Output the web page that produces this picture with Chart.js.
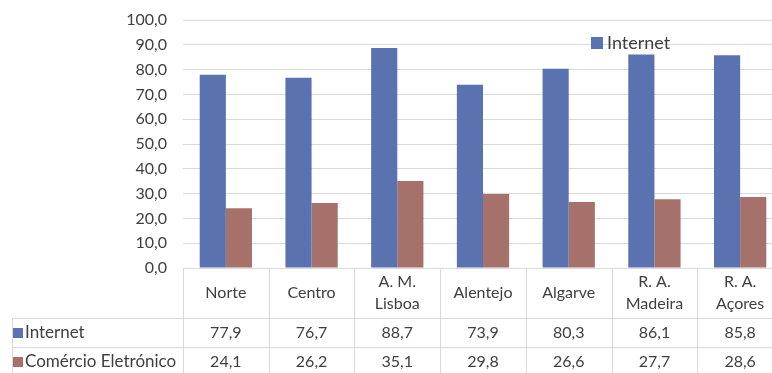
<!DOCTYPE html>
<html>
<head>
<meta charset="utf-8">
<script src="https://cdn.jsdelivr.net/npm/chart.js@4.4.0/dist/chart.umd.min.js"></script>
<style>
  html, body { margin: 0; padding: 0; overflow: hidden; background: #fff; }
  #wrap { width: 786px; height: 380px; }
</style>
</head>
<body>
<div id="wrap"><canvas id="chart" width="786" height="380"></canvas></div>
<script>
// region labels (multi-line where the table wraps them)
const regions = [['Norte'], ['Centro'], ['A. M.', 'Lisboa'], ['Alentejo'], ['Algarve'], ['R. A.', 'Madeira'], ['R. A.', 'Açores']];
const internet = [77.9, 76.7, 88.7, 73.9, 80.3, 86.1, 85.8];
const comercio = [24.1, 26.2, 35.1, 29.8, 26.6, 27.7, 28.6];
const seriesNames = ['Internet', 'Comércio Eletrónico'];
const colors = ['#5a72b0', '#a6706b'];

const FONT = 'Lato, "Open Sans", sans-serif';
const TEXT = '#404040';
const LINE = '#d9d9d9';
const fmt = v => v.toFixed(1).replace('.', ',');

// Excel style data table under the plot, aligned with the category scale
const dataTable = {
  id: 'dataTable',
  afterDraw(chart) {
    const { ctx, chartArea: a, scales: { x } } = chart;
    const n = regions.length;
    const w = (a.right - a.left) / n;
    const top = a.bottom;
    const rows = [top, top + 50, top + 79, top + 108];
    const tableLeft = 12;
    const px = v => Math.round(v) + 0.5;

    ctx.save();
    ctx.strokeStyle = LINE;
    ctx.lineWidth = 1;
    ctx.beginPath();
    // horizontal lines
    for (let r = 1; r < rows.length; r++) {
      ctx.moveTo(tableLeft, px(rows[r]));
      ctx.lineTo(a.right, px(rows[r]));
    }
    // left border of the series name column
    ctx.moveTo(px(tableLeft), rows[1]);
    ctx.lineTo(px(tableLeft), rows[3]);
    // category boundaries
    for (let i = 0; i <= n; i++) {
      const bx = px(a.left + i * w);
      ctx.moveTo(bx, top);
      ctx.lineTo(bx, rows[3]);
    }
    ctx.stroke();

    ctx.fillStyle = TEXT;
    ctx.font = '16px ' + FONT;
    ctx.textAlign = 'center';
    ctx.textBaseline = 'middle';
    regions.forEach((lines, i) => {
      const cx = x.getPixelForValue(i);
      const cy = (rows[0] + rows[1]) / 2;
      if (lines.length === 1) {
        ctx.fillText(lines[0], cx, cy);
      } else {
        ctx.fillText(lines[0], cx, cy - 11);
        ctx.fillText(lines[1], cx, cy + 11);
      }
    });

    [internet, comercio].forEach((vals, s) => {
      const cy = (rows[s + 1] + rows[s + 2]) / 2;
      ctx.font = '16px ' + FONT;
      ctx.textAlign = 'center';
      vals.forEach((v, i) => ctx.fillText(fmt(v), x.getPixelForValue(i), cy));
      ctx.fillStyle = colors[s];
      ctx.fillRect(13, Math.round(cy - 5), 10, 10);
      ctx.fillStyle = TEXT;
      ctx.font = '17px ' + FONT;
      ctx.textAlign = 'left';
      ctx.fillText(seriesNames[s], 25, cy);
    });

    // legend (only the first series shows in the reference)
    ctx.fillStyle = colors[0];
    ctx.fillRect(591, 37, 12, 12);
    ctx.fillStyle = TEXT;
    ctx.font = '18px ' + FONT;
    ctx.textAlign = 'left';
    ctx.fillText(seriesNames[0], 607, 43);
    ctx.restore();
  }
};

new Chart(document.getElementById('chart'), {
  type: 'bar',
  data: {
    labels: regions.map(r => r.join(' ')),
    datasets: [
      { label: seriesNames[0], data: internet, backgroundColor: colors[0] },
      { label: seriesNames[1], data: comercio, backgroundColor: colors[1] }
    ]
  },
  options: {
    responsive: false,
    animation: false,
    layout: { padding: { top: 20, right: 3, bottom: 112, left: 0 } },
    datasets: { bar: { categoryPercentage: 0.61, barPercentage: 1 } },
    scales: {
      x: { display: false },
      y: {
        min: 0,
        max: 100,
        ticks: { stepSize: 10, callback: v => fmt(v), color: TEXT, font: { family: FONT, size: 16 }, padding: 0 },
        grid: { color: LINE, drawTicks: true, tickLength: 16, tickColor: 'rgba(0,0,0,0)' },
        border: { display: false },
        afterFit: s => { s.width = 183; }
      }
    },
    plugins: { legend: { display: false }, tooltip: { enabled: false } }
  },
  plugins: [dataTable]
});
</script>
</body>
</html>
